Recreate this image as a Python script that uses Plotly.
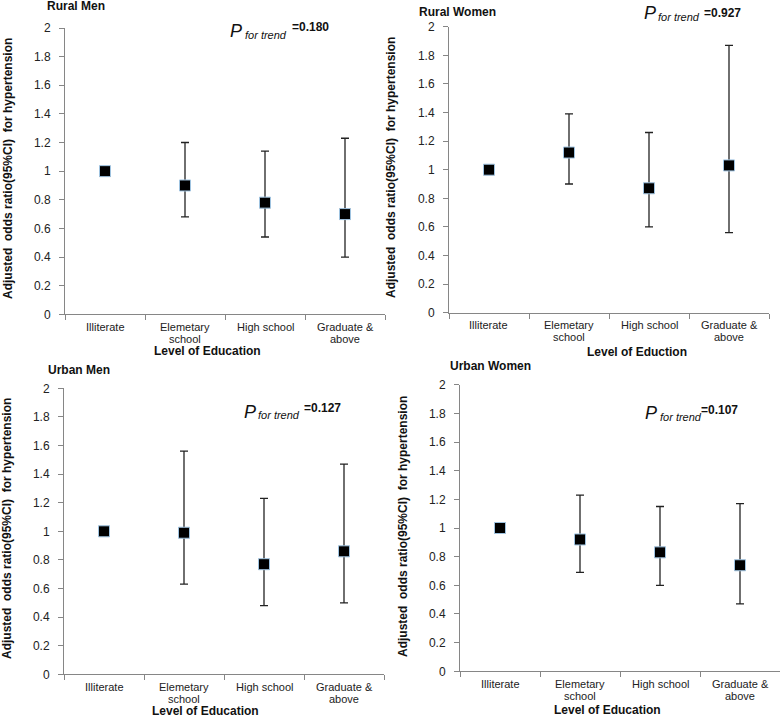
import plotly.graph_objects as go

W, H = 780, 719

categories = ["Illiterate", "Elemetary school", "High school", "Graduate & above"]
tick_labels = [["Illiterate"], ["Elemetary", "school"], ["High school"], ["Graduate &", "above"]]

rural_men_or = [1.00, 0.90, 0.78, 0.70]
rural_men_lo = [1.00, 0.68, 0.54, 0.40]
rural_men_hi = [1.00, 1.20, 1.14, 1.23]

rural_women_or = [1.00, 1.12, 0.87, 1.03]
rural_women_lo = [1.00, 0.90, 0.60, 0.56]
rural_women_hi = [1.00, 1.39, 1.26, 1.87]

urban_men_or = [1.00, 0.99, 0.77, 0.86]
urban_men_lo = [1.00, 0.63, 0.48, 0.50]
urban_men_hi = [1.00, 1.56, 1.23, 1.47]

urban_women_or = [1.00, 0.92, 0.83, 0.74]
urban_women_lo = [1.00, 0.69, 0.60, 0.47]
urban_women_hi = [1.00, 1.23, 1.15, 1.17]

panel_titles = ["Rural Men", "Rural Women", "Urban Men", "Urban Women"]
p_values = ["=0.180", "=0.927", "=0.127", "=0.107"]
x_titles = ["Level of Education", "Level of Eduction", "Level of Education", "Level of Education"]
y_title = "Adjusted  odds ratio(95%CI)  for hypertension"

FONT = "Arial, Liberation Sans, sans-serif"


def px(x):
    return x / W


def py(y):
    return 1 - y / H


# panel geometry in pixels: (left, right, top, bottom)
panels = [
    (65, 385, 28.0, 314.3),
    (449, 769, 26.7, 312.7),
    (64, 384, 388.3, 674.3),
    (460, 780, 384.7, 671.3),
]

data = [
    (rural_men_or, rural_men_lo, rural_men_hi),
    (rural_women_or, rural_women_lo, rural_women_hi),
    (urban_men_or, urban_men_lo, urban_men_hi),
    (urban_women_or, urban_women_lo, urban_women_hi),
]

fig = go.Figure()
annotations = []

for i, (orv, lo, hi) in enumerate(data):
    ax = "" if i == 0 else str(i + 1)
    plus = [h - o for h, o in zip(hi, orv)]
    minus = [o - l for o, l in zip(orv, lo)]
    fig.add_trace(go.Scatter(
        x=categories, y=orv, mode="markers",
        xaxis="x" + ax, yaxis="y" + ax,
        marker=dict(symbol="square", size=11, color="black",
                    line=dict(color="#9fc3e0", width=1)),
        error_y=dict(type="data", symmetric=False, array=plus, arrayminus=minus,
                     color="#222222", thickness=1.3, width=4),
        showlegend=False, hoverinfo="skip",
    ))
    l, r, t, b = panels[i]
    fig.layout["xaxis" + ax] = dict(
        domain=[px(l), px(r)], anchor="y" + ax,
        type="category", range=[-0.5, 3.5],
        tickmode="array", tickvals=categories, ticktext=["", "", "", ""],
        tickson="boundaries", ticks="outside", ticklen=5, tickcolor="#868686",
        showline=True, linecolor="#868686", linewidth=1,
        showgrid=False, zeroline=False, automargin=False,
        tickfont=dict(family=FONT, size=11, color="#222222"),
    )
    fig.layout["yaxis" + ax] = dict(
        domain=[py(b), py(t)], anchor="x" + ax,
        range=[0, 2], dtick=0.2, tick0=0,
        ticks="outside", ticklen=5, tickcolor="#868686",
        ticklabelstandoff=6,
        showline=True, linecolor="#868686", linewidth=1,
        showgrid=False, zeroline=False, automargin=False,
        tickfont=dict(family=FONT, size=12, color="#222222"),
    )
    # category labels, line by line
    for cat, lines in zip(categories, tick_labels):
        for k, line in enumerate(lines):
            annotations.append(dict(
                x=cat, y=py(b + 12.5 + 12.0 * k), xref="x" + ax, yref="paper",
                xanchor="center", yanchor="middle", showarrow=False,
                text=line, font=dict(family=FONT, size=11, color="#222222")))

# panel titles (left x, center y)
title_pos = [(45, 6), (417, 12), (46, 370), (448, 366)]
for (x, y), txt in zip(title_pos, panel_titles):
    annotations.append(dict(x=px(x), y=py(y), xref="paper", yref="paper",
                            xanchor="left", yanchor="middle", showarrow=False,
                            text="<b>" + txt + "</b>",
                            font=dict(family=FONT, size=12, color="#111111")))

# x titles (center x, center y)
xt_pos = [(207, 351), (637, 352), (205, 711), (607, 710)]
for (x, y), txt in zip(xt_pos, x_titles):
    annotations.append(dict(x=px(x), y=py(y), xref="paper", yref="paper",
                            xanchor="center", yanchor="middle", showarrow=False,
                            text="<b>" + txt + "</b>",
                            font=dict(family=FONT, size=12, color="#111111")))

# y titles (center x, center y)
yt_pos = [(8, 169), (391, 168), (7, 529), (403, 527)]
for (x, y) in yt_pos:
    annotations.append(dict(x=px(x), y=py(y), xref="paper", yref="paper",
                            xanchor="center", yanchor="middle", showarrow=False,
                            textangle=-90,
                            text="<b>" + y_title + "</b>",
                            font=dict(family=FONT, size=12, color="#111111")))

# P for trend annotations: (P x, P y, "for trend" x, y, value x, y)
p_pos = [
    (228, 31, 243, 35, 290, 27),
    (642, 13, 656, 17, 702, 13),
    (242, 412, 256, 415, 302, 408),
    (643, 413, 658, 417, 699, 410),
]
for (pxx, pyy, fx, fy, vx, vy), val in zip(p_pos, p_values):
    annotations.append(dict(x=px(pxx), y=py(pyy), xref="paper", yref="paper",
                            xanchor="left", yanchor="middle", showarrow=False,
                            text="<i>P</i>",
                            font=dict(family=FONT, size=18, color="#111111")))
    annotations.append(dict(x=px(fx), y=py(fy), xref="paper", yref="paper",
                            xanchor="left", yanchor="middle", showarrow=False,
                            text="<i>for trend</i>",
                            font=dict(family=FONT, size=11, color="#111111")))
    annotations.append(dict(x=px(vx), y=py(vy), xref="paper", yref="paper",
                            xanchor="left", yanchor="middle", showarrow=False,
                            text="<b>" + val + "</b>",
                            font=dict(family=FONT, size=12, color="#111111")))

fig.update_layout(
    width=W, height=H,
    margin=dict(l=0, r=0, t=0, b=0, autoexpand=False),
    paper_bgcolor="white", plot_bgcolor="white",
    annotations=annotations,
    font=dict(family=FONT),
    hovermode=False,
)

fig.write_html(
    "out.html",
    config={"displayModeBar": False},
    post_script="document.body.style.margin='0';document.body.style.overflow='hidden';",
)
